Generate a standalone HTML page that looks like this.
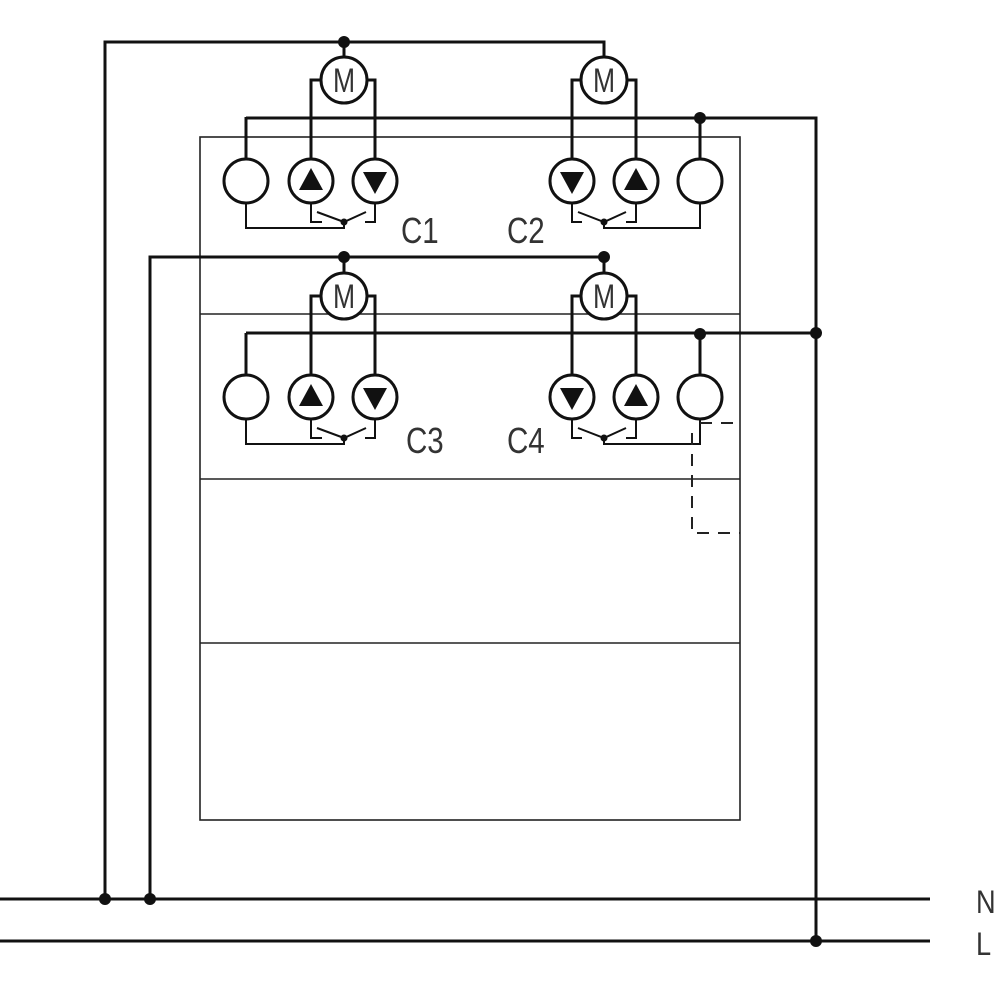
<!DOCTYPE html>
<html><head><meta charset="utf-8"><style>html,body{margin:0;padding:0;background:#fff}svg{display:block}</style></head>
<body>
<svg width="1000" height="1000" viewBox="0 0 1000 1000" xmlns="http://www.w3.org/2000/svg">
<defs>
<g id="ua" fill="none" stroke="#111" stroke-width="3">
 <circle cx="0" cy="-101" r="23" fill="#fff"/>
 <path d="M-23,-101 H-33 V-22 M23,-101 H31 V-22" stroke-width="3"/>
 <path d="M-98,-22 V-64" stroke-width="3"/>
 <circle cx="-98" cy="0" r="22"/>
 <circle cx="-33" cy="0" r="22"/>
 <circle cx="31" cy="0" r="22"/>
 <path d="M-33,-13 L-45,9 L-21,9 Z" fill="#111" stroke="none"/>
 <path d="M31,13 L19,-9 L43,-9 Z" fill="#111" stroke="none"/>
 <path d="M-98,22 V47 H0 V41 M-33,22 V41 H-22 M31,22 V41 H21 M-27,31 L0,41 L22,31" stroke-width="2"/>
 <circle cx="0" cy="41" r="3.5" fill="#111" stroke="none"/>
 <path d="M0,-124 V-139" stroke-width="3"/>
</g>
<g id="ub" fill="none" stroke="#111" stroke-width="3">
 <circle cx="0" cy="-101" r="23" fill="#fff"/>
 <path d="M-23,-101 H-32 V-22 M23,-101 H32 V-22" stroke-width="3"/>
 <path d="M96,-22 V-64" stroke-width="3"/>
 <circle cx="96" cy="-63" r="6" fill="#111" stroke="none"/>
 <circle cx="-32" cy="0" r="22"/>
 <circle cx="32" cy="0" r="22"/>
 <circle cx="96" cy="0" r="22"/>
 <path d="M-32,13 L-44,-9 L-20,-9 Z" fill="#111" stroke="none"/>
 <path d="M32,-13 L20,9 L44,9 Z" fill="#111" stroke="none"/>
 <path d="M96,22 V47 H0 V41 M-32,22 V41 H-22 M32,22 V41 H22 M-26,31 L0,41 L22,31" stroke-width="2"/>
 <circle cx="0" cy="41" r="3.5" fill="#111" stroke="none"/>
 <path d="M0,-124 V-139" stroke-width="3"/>
</g>
</defs>
<g fill="none" stroke="#222" stroke-width="1.6">
 <rect x="200" y="137" width="540" height="683"/>
 <path d="M200,314 H740 M200,479 H740 M200,643 H740"/>
</g>
<g fill="none" stroke="#111" stroke-width="3">
 <path d="M0,899 H930 M0,941 H930"/>
 <path d="M105,899 V42 H604 V58"/>
 <path d="M150,899 V257 H604 V271"/>
 <path d="M816,941 V118 H246 M816,333 H246"/>
</g>
<g fill="#111">
 <circle cx="105" cy="899" r="6"/><circle cx="150" cy="899" r="6"/>
 <circle cx="816" cy="941" r="6"/><circle cx="816" cy="333" r="6"/>
 <circle cx="344" cy="42" r="6"/><circle cx="344" cy="257" r="6"/><circle cx="604" cy="257" r="6"/>
</g>
<use href="#ua" transform="translate(344,181)"/>
<use href="#ub" transform="translate(604,181)"/>
<use href="#ua" transform="translate(344,397)"/>
<use href="#ub" transform="translate(604,397)"/>
<path d="M700,423 H740 M692,433 V533 H740" fill="none" stroke="#222" stroke-width="2" stroke-dasharray="12,9"/>
<g font-family="Liberation Sans, sans-serif" font-size="36" fill="#333">
 <text transform="translate(401,243) scale(0.82,1)">C1</text>
 <text transform="translate(507,243) scale(0.82,1)">C2</text>
 <text transform="translate(406,453) scale(0.82,1)">C3</text>
 <text transform="translate(507,453) scale(0.82,1)">C4</text>
 <text transform="translate(976,913) scale(0.85,1)" font-size="32">N</text>
 <text transform="translate(976,955) scale(0.85,1)" font-size="32">L</text>
</g>
<g font-family="Liberation Sans, sans-serif" font-size="34" fill="#333" text-anchor="middle">
 <text transform="translate(344,92) scale(0.78,1)">M</text>
 <text transform="translate(604,92) scale(0.78,1)">M</text>
 <text transform="translate(344,308) scale(0.78,1)">M</text>
 <text transform="translate(604,308) scale(0.78,1)">M</text>
</g>
</svg>
</body></html>
